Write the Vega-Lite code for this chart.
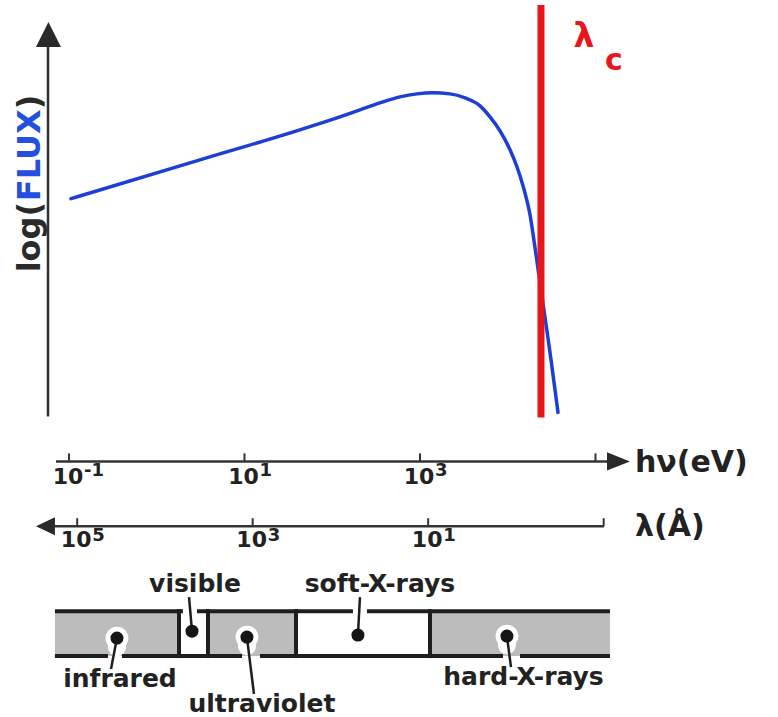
{
  "$schema": "https://vega.github.io/schema/vega-lite/v6.json",
  "width": 778,
  "height": 717,
  "autosize": {"type": "fit", "contains": "padding"},
  "padding": 0,
  "background": "white",
  "config": {"view": {"stroke": null}, "text": {"font": "DejaVu Sans", "fontWeight": "bold"}},
  "datasets": {
    "curve": [
      {"x": -0.977, "y": 72.25}, {"x": 0.493, "y": 77.68}, {"x": 1.632, "y": 81.87},
      {"x": 2.088, "y": 83.68}, {"x": 2.316, "y": 84.66}, {"x": 2.544, "y": 85.63},
      {"x": 2.772, "y": 86.47}, {"x": 2.966, "y": 86.89}, {"x": 3.148, "y": 87.03},
      {"x": 3.342, "y": 86.89}, {"x": 3.513, "y": 86.33}, {"x": 3.684, "y": 85.22},
      {"x": 3.798, "y": 83.68}, {"x": 3.912, "y": 81.73}, {"x": 4.026, "y": 79.08},
      {"x": 4.105, "y": 76.71}, {"x": 4.174, "y": 74.06}, {"x": 4.219, "y": 71.97},
      {"x": 4.254, "y": 70.01}, {"x": 4.288, "y": 67.36}, {"x": 4.345, "y": 62.48},
      {"x": 4.425, "y": 55.65}, {"x": 4.493, "y": 49.79}, {"x": 4.573, "y": 42.4}
    ],
    "shaded": [
      {"name": "infrared", "x": -1.16, "x2": 0.254},
      {"name": "ultraviolet", "x": 0.584, "x2": 1.587},
      {"name": "hard-X-rays", "x": 3.114, "x2": 5.165}
    ],
    "separators": [{"x": 0.254}, {"x": 0.584}, {"x": 1.587}, {"x": 3.114}],
    "topEdge": [{"x": -1.16, "x2": 0.299}, {"x": 0.459, "x2": 2.236}, {"x": 2.396, "x2": 5.165}],
    "bottomEdge": [{"x": -1.16, "x2": -0.556}, {"x": -0.396, "x2": 0.972}, {"x": 1.177, "x2": 3.946}, {"x": 4.14, "x2": 5.165}],
    "bands": [
      {"name": "infrared", "x": -0.453, "y": 10.88, "x2": -0.521, "y2": 6.56, "lx": -0.419, "ly": 4.04},
      {"name": "visible", "x": 0.402, "y": 11.85, "x2": 0.368, "y2": 16.6, "lx": 0.436, "ly": 17.29},
      {"name": "ultraviolet", "x": 1.028, "y": 11.02, "x2": 1.108, "y2": 3.07, "lx": 1.199, "ly": 0.56},
      {"name": "soft-X-rays", "x": 2.293, "y": 11.3, "x2": 2.316, "y2": 16.6, "lx": 2.544, "ly": 17.29},
      {"name": "hard-X-rays", "x": 3.991, "y": 11.16, "x2": 4.037, "y2": 6.83, "lx": 4.18, "ly": 4.32}
    ],
    "energyTicks": [{"x": -1, "exp": "-1"}, {"x": 1, "exp": "1"}, {"x": 3, "exp": "3"}, {"x": 5, "exp": ""}],
    "lambdaTicks": [{"x": -0.9066, "exp": "5"}, {"x": 1.0934, "exp": "3"}, {"x": 3.0934, "exp": "1"}, {"x": 5.0934, "exp": ""}],
    "one": [{"x": 0}]
  },
  "layer": [
    {
      "data": {"name": "shaded"},
      "mark": {"type": "rect", "fill": "#bcbcbc"},
      "encoding": {
        "x": {"field": "x", "type": "quantitative", "scale": {"domain": [-1.786, 7.08], "nice": false, "zero": false}, "axis": null},
        "x2": {"field": "x2"},
        "y": {"datum": 14.64, "type": "quantitative", "scale": {"domain": [0, 100], "nice": false, "zero": false}, "axis": null},
        "y2": {"datum": 8.37}
      }
    },
    {
      "data": {"name": "bands"},
      "transform": [{"filter": "indexof(['infrared','ultraviolet','hard-X-rays'], datum.name) >= 0"}],
      "mark": {"type": "point", "shape": "circle", "filled": true, "fill": "white", "opacity": 1, "size": 520, "strokeWidth": 0},
      "encoding": {
        "x": {"field": "x", "type": "quantitative", "scale": {"domain": [-1.786, 7.08], "nice": false, "zero": false}, "axis": null},
        "y": {"field": "y", "type": "quantitative", "scale": {"domain": [0, 100], "nice": false, "zero": false}, "axis": null}
      }
    },
    {
      "data": {"name": "bands"},
      "transform": [{"filter": "indexof(['infrared','ultraviolet','hard-X-rays'], datum.name) >= 0"}],
      "mark": {"type": "point", "shape": "circle", "filled": true, "fill": "white", "opacity": 1, "size": 330, "strokeWidth": 0, "yOffset": 9},
      "encoding": {
        "x": {"field": "x", "type": "quantitative", "scale": {"domain": [-1.786, 7.08], "nice": false, "zero": false}, "axis": null},
        "y": {"field": "y", "type": "quantitative", "scale": {"domain": [0, 100], "nice": false, "zero": false}, "axis": null}
      }
    },
    {
      "data": {"name": "topEdge"},
      "mark": {"type": "rule", "stroke": "#1e1e1e", "strokeWidth": 4},
      "encoding": {
        "x": {"field": "x", "type": "quantitative", "scale": {"domain": [-1.786, 7.08], "nice": false, "zero": false}, "axis": null},
        "x2": {"field": "x2"},
        "y": {"datum": 14.64, "type": "quantitative", "scale": {"domain": [0, 100], "nice": false, "zero": false}, "axis": null}
      }
    },
    {
      "data": {"name": "bottomEdge"},
      "mark": {"type": "rule", "stroke": "#1e1e1e", "strokeWidth": 4},
      "encoding": {
        "x": {"field": "x", "type": "quantitative", "scale": {"domain": [-1.786, 7.08], "nice": false, "zero": false}, "axis": null},
        "x2": {"field": "x2"},
        "y": {"datum": 8.37, "type": "quantitative", "scale": {"domain": [0, 100], "nice": false, "zero": false}, "axis": null}
      }
    },
    {
      "data": {"name": "separators"},
      "mark": {"type": "rule", "stroke": "#1e1e1e", "strokeWidth": 4},
      "encoding": {
        "x": {"field": "x", "type": "quantitative", "scale": {"domain": [-1.786, 7.08], "nice": false, "zero": false}, "axis": null},
        "y": {"datum": 14.92, "type": "quantitative", "scale": {"domain": [0, 100], "nice": false, "zero": false}, "axis": null},
        "y2": {"datum": 8.09}
      }
    },
    {
      "data": {"name": "bands"},
      "mark": {"type": "rule", "stroke": "#1e1e1e", "strokeWidth": 2.5},
      "encoding": {
        "x": {"field": "x", "type": "quantitative", "scale": {"domain": [-1.786, 7.08], "nice": false, "zero": false}, "axis": null},
        "x2": {"field": "x2"},
        "y": {"field": "y", "type": "quantitative", "scale": {"domain": [0, 100], "nice": false, "zero": false}, "axis": null},
        "y2": {"field": "y2"}
      }
    },
    {
      "data": {"name": "bands"},
      "mark": {"type": "point", "shape": "circle", "filled": true, "fill": "#151515", "opacity": 1, "size": 170, "strokeWidth": 0},
      "encoding": {
        "x": {"field": "x", "type": "quantitative", "scale": {"domain": [-1.786, 7.08], "nice": false, "zero": false}, "axis": null},
        "y": {"field": "y", "type": "quantitative", "scale": {"domain": [0, 100], "nice": false, "zero": false}, "axis": null}
      }
    },
    {
      "data": {"name": "bands"},
      "mark": {"type": "text", "fontSize": 25, "align": "center", "baseline": "alphabetic", "fill": "#222222"},
      "encoding": {
        "x": {"field": "lx", "type": "quantitative", "scale": {"domain": [-1.786, 7.08], "nice": false, "zero": false}, "axis": null},
        "y": {"field": "ly", "type": "quantitative", "scale": {"domain": [0, 100], "nice": false, "zero": false}, "axis": null},
        "text": {"field": "name"}
      }
    },
    {
      "data": {"name": "one"},
      "mark": {"type": "rule", "stroke": "#333333", "strokeWidth": 2.5},
      "encoding": {
        "x": {"datum": -1.239, "type": "quantitative", "scale": {"domain": [-1.786, 7.08], "nice": false, "zero": false}, "axis": null},
        "y": {"datum": 41.84, "type": "quantitative", "scale": {"domain": [0, 100], "nice": false, "zero": false}, "axis": null},
        "y2": {"datum": 93.44}
      }
    },
    {
      "data": {"name": "one"},
      "mark": {"type": "point", "shape": "M0,-1L1,1L-1,1Z", "filled": true, "fill": "#2a2a2a", "opacity": 1, "size": 625, "strokeWidth": 0},
      "encoding": {
        "x": {"datum": -1.234, "type": "quantitative", "scale": {"domain": [-1.786, 7.08], "nice": false, "zero": false}, "axis": null},
        "y": {"datum": 95.19, "type": "quantitative", "scale": {"domain": [0, 100], "nice": false, "zero": false}, "axis": null}
      }
    },
    {
      "data": {"name": "one"},
      "mark": {"type": "text", "fontSize": 32, "angle": 270, "align": "center", "baseline": "alphabetic", "fill": "#2a2a2a", "text": "log("},
      "encoding": {
        "x": {"datum": -1.33, "type": "quantitative", "scale": {"domain": [-1.786, 7.08], "nice": false, "zero": false}, "axis": null},
        "y": {"datum": 66.88, "type": "quantitative", "scale": {"domain": [0, 100], "nice": false, "zero": false}, "axis": null}
      }
    },
    {
      "data": {"name": "one"},
      "mark": {"type": "text", "fontSize": 32, "angle": 270, "align": "center", "baseline": "alphabetic", "fill": "#2450e0", "text": "FLUX"},
      "encoding": {
        "x": {"datum": -1.33, "type": "quantitative", "scale": {"domain": [-1.786, 7.08], "nice": false, "zero": false}, "axis": null},
        "y": {"datum": 78.31, "type": "quantitative", "scale": {"domain": [0, 100], "nice": false, "zero": false}, "axis": null}
      }
    },
    {
      "data": {"name": "one"},
      "mark": {"type": "text", "fontSize": 32, "angle": 270, "align": "center", "baseline": "alphabetic", "fill": "#2a2a2a", "text": ")"},
      "encoding": {
        "x": {"datum": -1.33, "type": "quantitative", "scale": {"domain": [-1.786, 7.08], "nice": false, "zero": false}, "axis": null},
        "y": {"datum": 85.77, "type": "quantitative", "scale": {"domain": [0, 100], "nice": false, "zero": false}, "axis": null}
      }
    },
    {
      "data": {"name": "one"},
      "mark": {"type": "rule", "stroke": "#333333", "strokeWidth": 2.5},
      "encoding": {
        "x": {"datum": -1.148, "type": "quantitative", "scale": {"domain": [-1.786, 7.08], "nice": false, "zero": false}, "axis": null},
        "x2": {"datum": 5.165},
        "y": {"datum": 35.56, "type": "quantitative", "scale": {"domain": [0, 100], "nice": false, "zero": false}, "axis": null}
      }
    },
    {
      "data": {"name": "one"},
      "mark": {"type": "point", "shape": "M1,0L-1,-0.8L-1,0.8Z", "filled": true, "fill": "#2a2a2a", "opacity": 1, "size": 529, "strokeWidth": 0},
      "encoding": {
        "x": {"datum": 5.262, "type": "quantitative", "scale": {"domain": [-1.786, 7.08], "nice": false, "zero": false}, "axis": null},
        "y": {"datum": 35.56, "type": "quantitative", "scale": {"domain": [0, 100], "nice": false, "zero": false}, "axis": null}
      }
    },
    {
      "data": {"name": "energyTicks"},
      "mark": {"type": "rule", "stroke": "#333333", "strokeWidth": 2},
      "encoding": {
        "x": {"field": "x", "type": "quantitative", "scale": {"domain": [-1.786, 7.08], "nice": false, "zero": false}, "axis": null},
        "y": {"datum": 35.56, "type": "quantitative", "scale": {"domain": [0, 100], "nice": false, "zero": false}, "axis": null},
        "y2": {"datum": 36.68}
      }
    },
    {
      "data": {"name": "energyTicks"},
      "transform": [{"filter": "datum.exp != ''"}],
      "mark": {"type": "text", "fontSize": 22, "align": "center", "baseline": "alphabetic", "fill": "#222222", "dx": -1},
      "encoding": {
        "x": {"field": "x", "type": "quantitative", "scale": {"domain": [-1.786, 7.08], "nice": false, "zero": false}, "axis": null},
        "y": {"datum": 32.36, "type": "quantitative", "scale": {"domain": [0, 100], "nice": false, "zero": false}, "axis": null},
        "text": {"value": "10"}
      }
    },
    {
      "data": {"name": "energyTicks"},
      "transform": [{"filter": "datum.exp != ''"}],
      "mark": {"type": "text", "fontSize": 18, "align": "left", "baseline": "alphabetic", "fill": "#222222", "dx": 15},
      "encoding": {
        "x": {"field": "x", "type": "quantitative", "scale": {"domain": [-1.786, 7.08], "nice": false, "zero": false}, "axis": null},
        "y": {"datum": 33.47, "type": "quantitative", "scale": {"domain": [0, 100], "nice": false, "zero": false}, "axis": null},
        "text": {"field": "exp"}
      }
    },
    {
      "data": {"name": "one"},
      "mark": {"type": "text", "fontSize": 30, "align": "left", "baseline": "alphabetic", "fill": "#222222", "text": "hν(eV)"},
      "encoding": {
        "x": {"datum": 5.45, "type": "quantitative", "scale": {"domain": [-1.786, 7.08], "nice": false, "zero": false}, "axis": null},
        "y": {"datum": 34.03, "type": "quantitative", "scale": {"domain": [0, 100], "nice": false, "zero": false}, "axis": null}
      }
    },
    {
      "data": {"name": "one"},
      "mark": {"type": "rule", "stroke": "#333333", "strokeWidth": 2.5},
      "encoding": {
        "x": {"datum": -1.217, "type": "quantitative", "scale": {"domain": [-1.786, 7.08], "nice": false, "zero": false}, "axis": null},
        "x2": {"datum": 5.097},
        "y": {"datum": 26.5, "type": "quantitative", "scale": {"domain": [0, 100], "nice": false, "zero": false}, "axis": null}
      }
    },
    {
      "data": {"name": "one"},
      "mark": {"type": "point", "shape": "M-1,0L1,-0.95L1,0.95Z", "filled": true, "fill": "#2a2a2a", "opacity": 1, "size": 361, "strokeWidth": 0},
      "encoding": {
        "x": {"datum": -1.268, "type": "quantitative", "scale": {"domain": [-1.786, 7.08], "nice": false, "zero": false}, "axis": null},
        "y": {"datum": 26.5, "type": "quantitative", "scale": {"domain": [0, 100], "nice": false, "zero": false}, "axis": null}
      }
    },
    {
      "data": {"name": "lambdaTicks"},
      "mark": {"type": "rule", "stroke": "#333333", "strokeWidth": 2},
      "encoding": {
        "x": {"field": "x", "type": "quantitative", "scale": {"domain": [-1.786, 7.08], "nice": false, "zero": false}, "axis": null},
        "y": {"datum": 26.5, "type": "quantitative", "scale": {"domain": [0, 100], "nice": false, "zero": false}, "axis": null},
        "y2": {"datum": 27.62}
      }
    },
    {
      "data": {"name": "lambdaTicks"},
      "transform": [{"filter": "datum.exp != ''"}],
      "mark": {"type": "text", "fontSize": 22, "align": "center", "baseline": "alphabetic", "fill": "#222222", "dx": -1},
      "encoding": {
        "x": {"field": "x", "type": "quantitative", "scale": {"domain": [-1.786, 7.08], "nice": false, "zero": false}, "axis": null},
        "y": {"datum": 23.57, "type": "quantitative", "scale": {"domain": [0, 100], "nice": false, "zero": false}, "axis": null},
        "text": {"value": "10"}
      }
    },
    {
      "data": {"name": "lambdaTicks"},
      "transform": [{"filter": "datum.exp != ''"}],
      "mark": {"type": "text", "fontSize": 18, "align": "left", "baseline": "alphabetic", "fill": "#222222", "dx": 15},
      "encoding": {
        "x": {"field": "x", "type": "quantitative", "scale": {"domain": [-1.786, 7.08], "nice": false, "zero": false}, "axis": null},
        "y": {"datum": 24.41, "type": "quantitative", "scale": {"domain": [0, 100], "nice": false, "zero": false}, "axis": null},
        "text": {"field": "exp"}
      }
    },
    {
      "data": {"name": "one"},
      "mark": {"type": "text", "fontSize": 30, "align": "left", "baseline": "alphabetic", "fill": "#222222", "text": "λ(Å)"},
      "encoding": {
        "x": {"datum": 5.45, "type": "quantitative", "scale": {"domain": [-1.786, 7.08], "nice": false, "zero": false}, "axis": null},
        "y": {"datum": 25.1, "type": "quantitative", "scale": {"domain": [0, 100], "nice": false, "zero": false}, "axis": null}
      }
    },
    {
      "data": {"name": "curve"},
      "mark": {"type": "line", "interpolate": "monotone", "stroke": "#1c3fd6", "strokeWidth": 3.5, "strokeCap": "round"},
      "encoding": {
        "x": {"field": "x", "type": "quantitative", "scale": {"domain": [-1.786, 7.08], "nice": false, "zero": false}, "axis": null},
        "y": {"field": "y", "type": "quantitative", "scale": {"domain": [0, 100], "nice": false, "zero": false}, "axis": null}
      }
    },
    {
      "data": {"name": "one"},
      "mark": {"type": "rule", "stroke": "#e8151b", "strokeWidth": 7},
      "encoding": {
        "x": {"datum": 4.379, "type": "quantitative", "scale": {"domain": [-1.786, 7.08], "nice": false, "zero": false}, "axis": null},
        "y": {"datum": 41.7, "type": "quantitative", "scale": {"domain": [0, 100], "nice": false, "zero": false}, "axis": null},
        "y2": {"datum": 99.3}
      }
    },
    {
      "data": {"name": "one"},
      "mark": {"type": "text", "fontSize": 33, "align": "center", "baseline": "alphabetic", "fill": "#e8151b", "text": "λ"},
      "encoding": {
        "x": {"datum": 4.869, "type": "quantitative", "scale": {"domain": [-1.786, 7.08], "nice": false, "zero": false}, "axis": null},
        "y": {"datum": 93.44, "type": "quantitative", "scale": {"domain": [0, 100], "nice": false, "zero": false}, "axis": null}
      }
    },
    {
      "data": {"name": "one"},
      "mark": {"type": "text", "fontSize": 30, "align": "center", "baseline": "alphabetic", "fill": "#e8151b", "text": "c"},
      "encoding": {
        "x": {"datum": 5.211, "type": "quantitative", "scale": {"domain": [-1.786, 7.08], "nice": false, "zero": false}, "axis": null},
        "y": {"datum": 90.24, "type": "quantitative", "scale": {"domain": [0, 100], "nice": false, "zero": false}, "axis": null}
      }
    }
  ]
}
